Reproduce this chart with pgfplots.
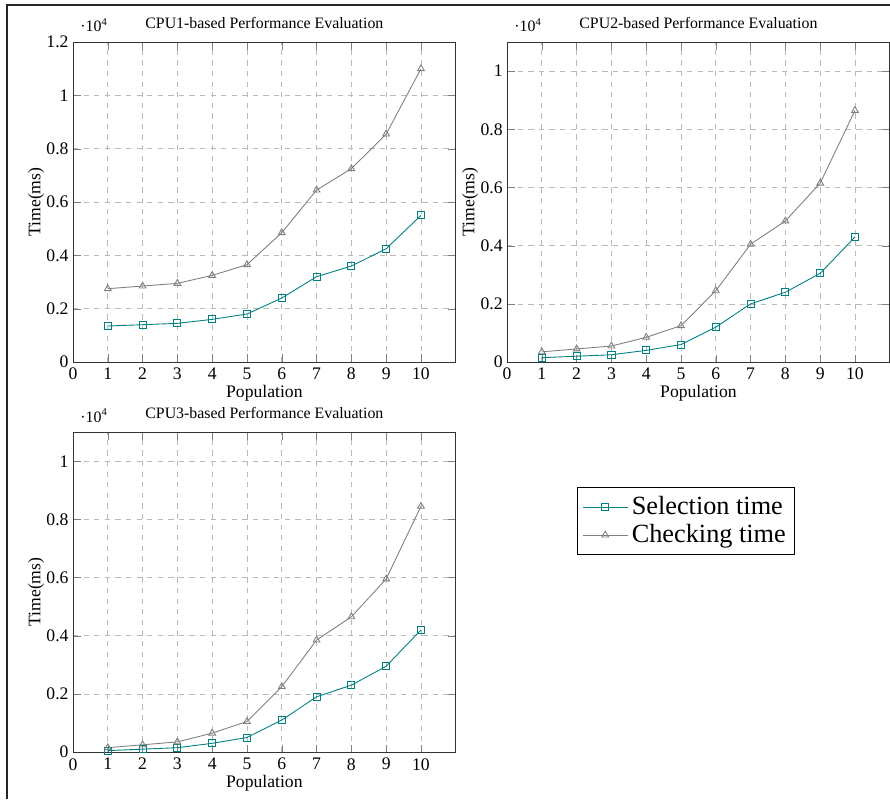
\documentclass[border=0pt]{standalone}
\usepackage{fontspec}
\setmainfont{Liberation Serif}
\usepackage{pgfplots}
\pgfplotsset{compat=1.18}
\definecolor{selcol}{RGB}{0,128,128}
\definecolor{chkcol}{RGB}{128,128,128}
\pgfplotsset{
  cpustyle/.style={
    scale only axis, width=217pt, height=181.4pt,
    xmin=0, xmax=11, xtick={0,...,10},
    ymin=0,
    grid=major,
    major grid style={dashed, gray!55},
    axis line style={black!80},
    xlabel={Population}, ylabel={Time(ms)},
    xlabel shift=-4pt, ylabel shift=-5.5pt,
    yticklabel style={xshift=1pt},
    title style={font=\small, yshift=-2pt},
    /pgf/number format/assume math mode=true,
    ytick scale label code/.code={\small ·10\textsuperscript{##1}},
    scaled y ticks=base 10:-4,
    every axis plot/.append style={line width=0.5pt},
  },
  selstyle/.style={color=selcol, mark=square, mark size=2pt},
  chkstyle/.style={color=chkcol, mark=triangle, mark size=2.2pt},
  mylegimg/.style={legend image code/.code={\draw[mark repeat=2,mark phase=2,##1] plot coordinates {(0cm,0cm)(0.45cm,0cm)(0.9cm,0cm)};}},
}
\begin{document}
\begin{tikzpicture}
\useasboundingbox (0,0) rectangle (504.6pt,-453pt);
\draw[line width=0.8pt, black!85] (3.97pt,-2.5pt) -- (3.97pt,-453pt);
\draw[line width=0.8pt, black!85] (3.97pt,-2.84pt) -- (504.6pt,-2.84pt);

\begin{axis}[cpustyle, at={(41.39pt,-205.25pt)}, anchor=south west,
  ymax=12000, ytick={0,2000,...,12000},
  title={CPU1-based Performance Evaluation}]
\addplot[selstyle] coordinates {(1,1350)(2,1400)(3,1450)(4,1600)(5,1800)(6,2400)(7,3200)(8,3600)(9,4250)(10,5500)};
\addplot[chkstyle] coordinates {(1,2750)(2,2850)(3,2950)(4,3250)(5,3650)(6,4850)(7,6450)(8,7250)(9,8550)(10,11000)};
\end{axis}

\begin{axis}[cpustyle, at={(287.47pt,-205.25pt)}, anchor=south west,
  ymax=11000, ytick={0,2000,...,10000},
  title={CPU2-based Performance Evaluation},
  legend style={at={(0.467,-0.497)}, anchor=center, font=\fontsize{14.9}{17}\selectfont, draw=black, inner sep=3pt},
  legend cell align=left, mylegimg]
\addplot[selstyle] coordinates {(1,150)(2,200)(3,250)(4,400)(5,600)(6,1200)(7,2000)(8,2400)(9,3050)(10,4300)};
\addplot[chkstyle] coordinates {(1,350)(2,450)(3,550)(4,850)(5,1250)(6,2450)(7,4050)(8,4850)(9,6150)(10,8650)};
\legend{Selection time, Checking time}
\end{axis}

\begin{axis}[cpustyle, at={(41.39pt,-426.38pt)}, anchor=south west,
  ymax=11000, ytick={0,2000,...,10000},
  title={CPU3-based Performance Evaluation}]
\addplot[selstyle] coordinates {(1,50)(2,100)(3,150)(4,300)(5,500)(6,1100)(7,1900)(8,2300)(9,2950)(10,4200)};
\addplot[chkstyle] coordinates {(1,150)(2,250)(3,350)(4,650)(5,1050)(6,2250)(7,3850)(8,4650)(9,5950)(10,8450)};
\end{axis}
\end{tikzpicture}
\end{document}
